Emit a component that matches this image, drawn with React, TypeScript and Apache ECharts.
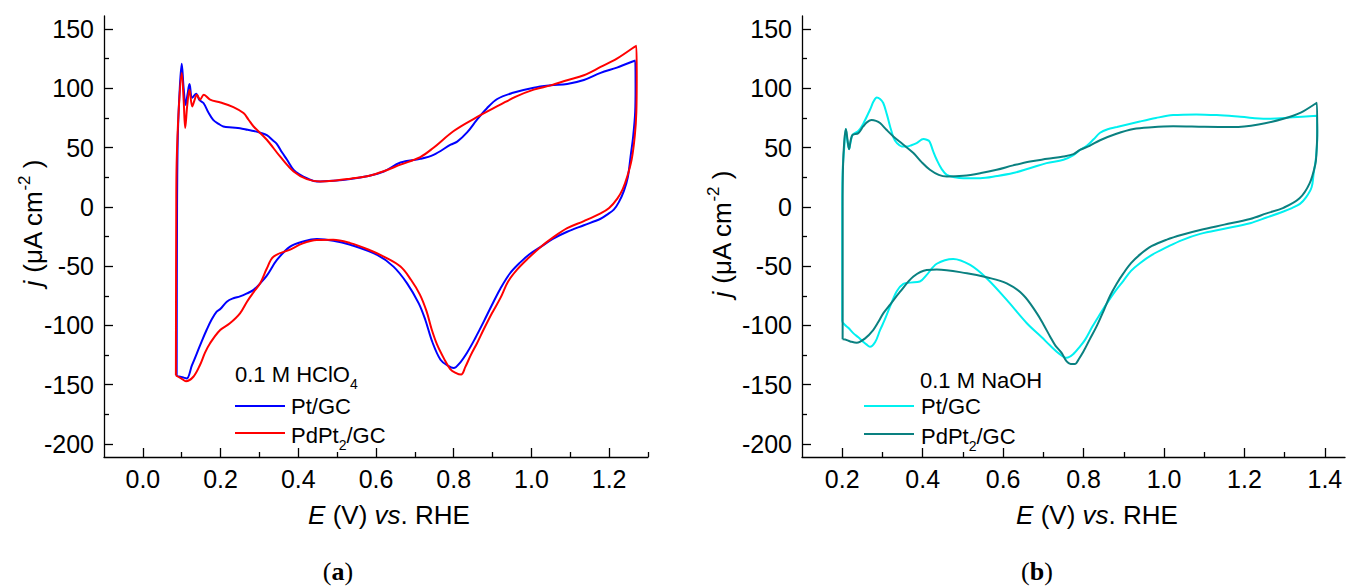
import React, { useEffect, useRef } from "react";
import * as echarts from "echarts";

// ---------- tick values ----------
const leftXTicks = [0.0, 0.2, 0.4, 0.6, 0.8, 1.0, 1.2];
const leftXMinor = [0.1, 0.3, 0.5, 0.7, 0.9, 1.1, 1.3];
const rightXTicks = [0.2, 0.4, 0.6, 0.8, 1.0, 1.2, 1.4];
const rightXMinor = [0.3, 0.5, 0.7, 0.9, 1.1, 1.3];
const yTicks = [-200, -150, -100, -50, 0, 50, 100, 150];
const yMinor = [-175, -125, -75, -25, 25, 75, 125];

// ---------- (a) 0.1 M HClO4 : [E (V), j (uA cm-2)] ----------
const ptHClO4: number[][] = [
  [0.087, -142.5], [0.088, 0], [0.09, 60], [0.095, 100], [0.1, 120.8], [0.105, 100], [0.11, 86],
  [0.115, 95], [0.12, 103.6], [0.127, 92], [0.137, 95.4], [0.146, 90], [0.156, 87.6], [0.168, 80],
  [0.181, 73.4], [0.195, 70], [0.207, 67.8], [0.23, 67], [0.25, 66.4], [0.27, 65], [0.285, 64],
  [0.302, 62.5], [0.319, 60.5], [0.335, 56], [0.345, 53], [0.358, 46], [0.371, 39.7], [0.388, 31.2],
  [0.405, 27], [0.422, 24.2], [0.448, 21.4], [0.49, 22], [0.534, 23.4], [0.58, 26], [0.62, 29.8],
  [0.663, 37.4], [0.714, 40.5], [0.748, 43.9], [0.792, 52.4], [0.809, 55], [0.835, 63], [0.86, 73.6],
  [0.885, 83], [0.912, 91], [0.95, 96], [1.006, 100.5], [1.05, 102.5], [1.092, 103.7], [1.135, 107],
  [1.178, 113], [1.22, 117.5], [1.267, 123.5],
  [1.268, 100], [1.267, 80], [1.262, 60], [1.255, 42], [1.248, 25], [1.238, 13.5], [1.225, 4],
  [1.212, -2.3], [1.195, -6.5], [1.178, -10], [1.135, -15.5], [1.092, -21], [1.055, -27], [1.023, -34],
  [0.995, -40], [0.972, -46.6], [0.945, -56], [0.92, -69], [0.898, -83], [0.877, -97], [0.855, -111],
  [0.835, -122.6], [0.815, -132], [0.8, -136], [0.785, -134], [0.766, -129], [0.745, -114],
  [0.727, -95.4], [0.71, -81.4], [0.68, -64.5], [0.645, -50.4], [0.603, -40.5], [0.534, -32],
  [0.49, -28.5], [0.448, -27.2], [0.415, -29], [0.379, -33.5], [0.345, -44.8], [0.319, -58],
  [0.302, -64.5], [0.285, -70], [0.268, -73], [0.25, -75.5], [0.233, -77.1], [0.216, -80], [0.2, -86],
  [0.19, -88.4], [0.177, -95], [0.164, -103.9], [0.152, -113], [0.139, -123.6], [0.126, -134],
  [0.113, -144.7], [0.104, -144], [0.096, -143.3], [0.087, -142.5],
];

const pdpt2HClO4: number[][] = [
  [0.085, -142], [0.086, 0], [0.087, 37], [0.092, 80], [0.1, 112.9], [0.105, 90], [0.109, 66.5],
  [0.114, 85], [0.12, 98.8], [0.127, 84.7], [0.133, 90], [0.139, 94.6], [0.147, 90.4], [0.157, 94.6],
  [0.173, 90.4], [0.2, 88], [0.233, 84.2], [0.259, 79.1], [0.272, 73.5], [0.285, 67.8], [0.319, 56.6],
  [0.353, 42.5], [0.388, 29.8], [0.422, 23.4], [0.456, 21.4], [0.49, 22], [0.534, 23.8], [0.58, 26],
  [0.62, 30], [0.663, 35.6], [0.714, 42], [0.748, 49.9], [0.8, 64], [0.852, 74.3], [0.92, 86.2],
  [0.96, 93], [1.006, 98.9], [1.05, 102.5], [1.092, 106.8], [1.135, 111], [1.178, 118], [1.22, 125],
  [1.27, 136],
  [1.271, 110], [1.27, 80], [1.266, 60], [1.258, 40], [1.247, 26], [1.235, 15], [1.221, 7], [1.2, -1],
  [1.178, -5.5], [1.135, -12], [1.092, -18], [1.055, -26], [1.023, -34], [0.993, -43], [0.963, -53],
  [0.94, -63], [0.92, -77], [0.898, -90], [0.877, -103.5], [0.86, -115], [0.843, -125.7],
  [0.83, -135], [0.819, -141.5], [0.805, -140], [0.791, -136.8], [0.775, -128], [0.757, -116],
  [0.743, -103], [0.73, -88], [0.713, -74], [0.69, -61.5], [0.663, -50.4], [0.62, -42], [0.58, -36],
  [0.534, -30.6], [0.49, -27.8], [0.448, -28], [0.41, -31], [0.379, -36], [0.336, -42], [0.319, -52],
  [0.302, -64.5], [0.285, -72], [0.268, -80], [0.25, -89.8], [0.224, -98.2], [0.199, -103.9],
  [0.173, -115], [0.16, -123], [0.147, -133.4], [0.13, -143.3], [0.111, -147], [0.1, -145],
  [0.091, -143.3], [0.085, -142],
];

// ---------- (b) 0.1 M NaOH ----------
const ptNaOH: number[][] = [
  [0.2, -97], [0.2, 0], [0.201, 30], [0.205, 50], [0.209, 65.6], [0.213, 55], [0.217, 48.7],
  [0.221, 55], [0.226, 60.8], [0.24, 64], [0.252, 70], [0.269, 81.9], [0.278, 89], [0.286, 92.3],
  [0.294, 91], [0.302, 87.6], [0.311, 78], [0.319, 67.8], [0.328, 58], [0.336, 53.8], [0.348, 51],
  [0.36, 50.9], [0.372, 52], [0.385, 53.8], [0.402, 57.2], [0.41, 56.6], [0.417, 55.2], [0.426, 47],
  [0.435, 39.7], [0.447, 32], [0.46, 27], [0.48, 25], [0.501, 24.2], [0.543, 24.2], [0.585, 26],
  [0.625, 28.5], [0.67, 33], [0.708, 36.9], [0.75, 39.7], [0.775, 43.6], [0.791, 48], [0.808, 51.5],
  [0.825, 57], [0.841, 62.5], [0.86, 65.5], [0.883, 67.3], [0.94, 72], [0.98, 75], [1.023, 77.4],
  [1.08, 78], [1.131, 77.4], [1.19, 76], [1.255, 74.3], [1.32, 75.5], [1.38, 76.8],
  [1.381, 60], [1.378, 42], [1.372, 28], [1.367, 16.6], [1.353, 8], [1.338, 2.5], [1.318, -1],
  [1.297, -3.9], [1.255, -9], [1.214, -13.8], [1.15, -18.5], [1.09, -22.8], [1.045, -28],
  [1.007, -34], [0.97, -40.5], [0.94, -47.5], [0.918, -54], [0.899, -62.4], [0.878, -71.5],
  [0.858, -81.4], [0.84, -91], [0.822, -101], [0.804, -112], [0.791, -117.8], [0.775, -124],
  [0.758, -127.3], [0.74, -124], [0.717, -117], [0.696, -110], [0.659, -98.2], [0.609, -78.5],
  [0.559, -60.2], [0.518, -49], [0.476, -43.9], [0.435, -48], [0.41, -57.4], [0.393, -63],
  [0.369, -63.9], [0.352, -65], [0.336, -71], [0.319, -84], [0.306, -95], [0.294, -104],
  [0.282, -114], [0.269, -118], [0.26, -116], [0.252, -113.7], [0.24, -110], [0.228, -106.7],
  [0.215, -102], [0.207, -99.7], [0.2, -97],
];

const pdpt2NaOH: number[][] = [
  [0.201, -111.7], [0.201, 0], [0.202, 34], [0.205, 55], [0.209, 65.6], [0.213, 57], [0.217, 48.7],
  [0.221, 56], [0.226, 60.8], [0.24, 62.2], [0.252, 67.8], [0.262, 71.5], [0.273, 73.2],
  [0.284, 72.5], [0.294, 70.7], [0.31, 65], [0.327, 59.4], [0.35, 53], [0.377, 45.4], [0.398, 37.5],
  [0.418, 31.3], [0.44, 27], [0.46, 25.6], [0.501, 26.2], [0.545, 28.5], [0.584, 31.3], [0.625, 35],
  [0.667, 38.3], [0.71, 40.5], [0.75, 42.5], [0.775, 44.5], [0.791, 48], [0.815, 51.5],
  [0.841, 56.2], [0.88, 61.5], [0.924, 65.7], [0.97, 67.2], [1.023, 67.9], [1.1, 67.5],
  [1.172, 67.3], [1.235, 69.5], [1.297, 74.3], [1.34, 79.5], [1.38, 87.8],
  [1.381, 64], [1.379, 45], [1.376, 35.6], [1.362, 19.8], [1.337, 7.2], [1.297, -0.8],
  [1.255, -5.5], [1.214, -10.2], [1.15, -15], [1.09, -19.5], [1.045, -23.5], [1.007, -27.6],
  [0.97, -33], [0.94, -40.3], [0.918, -47.5], [0.899, -56.1], [0.882, -65], [0.866, -75],
  [0.852, -86], [0.833, -100.4], [0.815, -112], [0.799, -122.5], [0.788, -128.5], [0.779, -132.6],
  [0.768, -132.5], [0.758, -130.4], [0.745, -123], [0.73, -117], [0.717, -109.5], [0.7, -99],
  [0.684, -89.8], [0.65, -74.3], [0.609, -64.5], [0.559, -59.4], [0.51, -56], [0.435, -52.9],
  [0.41, -53.2], [0.377, -58.8], [0.344, -71.5], [0.32, -82], [0.302, -89.8], [0.29, -97],
  [0.277, -103.9], [0.257, -110.9], [0.236, -114.6], [0.22, -113.5], [0.203, -111.7], [0.201, -111.7],
];

const FONT = "'Liberation Sans', Arial, Helvetica, sans-serif";
const SERIF = "'Liberation Serif', 'Times New Roman', serif";

const xMainAxis = (g: number, min: number, max: number, ticks: number[]) => ({
  type: "value", gridIndex: g, min, max, position: "bottom",
  axisLine: { show: true, onZero: false, lineStyle: { color: "#000", width: 1.3 } },
  axisTick: { show: true, inside: true, length: 9, customValues: ticks, lineStyle: { color: "#000", width: 1.3 } },
  axisLabel: {
    show: true, customValues: ticks, margin: 9, fontSize: 25, color: "#000", fontFamily: FONT,
    formatter: (v: number) => v.toFixed(1),
  },
  splitLine: { show: false },
});
const xMinorAxis = (g: number, min: number, max: number, ticks: number[]) => ({
  type: "value", gridIndex: g, min, max, position: "bottom",
  axisLine: { show: false, onZero: false },
  axisTick: { show: true, inside: true, length: 5, customValues: ticks, lineStyle: { color: "#000", width: 1.3 } },
  axisLabel: { show: false },
  splitLine: { show: false },
});
const yMainAxis = (g: number) => ({
  type: "value", gridIndex: g, min: -211, max: 161, position: "left",
  axisLine: { show: true, onZero: false, lineStyle: { color: "#000", width: 1.3 } },
  axisTick: { show: true, inside: true, length: 9, customValues: yTicks, lineStyle: { color: "#000", width: 1.3 } },
  axisLabel: {
    show: true, customValues: yTicks, margin: 10, fontSize: 25, color: "#000", fontFamily: FONT,
    formatter: (v: number) => String(v),
  },
  splitLine: { show: false },
});
const yMinorAxis = (g: number) => ({
  type: "value", gridIndex: g, min: -211, max: 161, position: "left",
  axisLine: { show: false, onZero: false },
  axisTick: { show: true, inside: true, length: 5, customValues: yMinor, lineStyle: { color: "#000", width: 1.3 } },
  axisLabel: { show: false },
  splitLine: { show: false },
});

const lineSeries = (name: string, data: number[][], color: string, axis: number) => ({
  type: "line", name, data, xAxisIndex: axis, yAxisIndex: axis,
  showSymbol: false, symbol: "none", smooth: 0.35,
  lineStyle: { color, width: 2 }, itemStyle: { color },
  emphasis: { disabled: true }, silent: true,
});

const text = (x: number, y: number, t: string, size: number, extra: any = {}) => ({
  type: "text", x, y, silent: true, ...extra,
  style: {
    text: t, fontSize: size, fontFamily: FONT, fill: "#000",
    align: extra.align || "left", textAlign: extra.align || "left",
    verticalAlign: "middle", textVerticalAlign: "middle",
    rich: {
      i: { fontStyle: "italic", fontSize: size, fontFamily: FONT, fill: "#000", verticalAlign: "middle", lineHeight: 34 },
      n: { fontSize: size, fontFamily: FONT, fill: "#000", verticalAlign: "middle", lineHeight: 34 },
      sup: { fontSize: Math.round(size * 0.65), fontFamily: FONT, fill: "#000", verticalAlign: "top", lineHeight: 34 },
      sub: { fontSize: Math.round(size * 0.65), fontFamily: FONT, fill: "#000", verticalAlign: "bottom", lineHeight: 34 },
    },
  },
});

const caption = (x: number, y: number, letter: string) => ({
  type: "text", x, y, silent: true,
  style: {
    text: "(" + "{b|" + letter + "})",
    font: "26px 'Liberation Serif', serif",
    fontSize: 26, fontFamily: SERIF, fill: "#000",
    align: "center", textAlign: "center", verticalAlign: "middle", textVerticalAlign: "middle",
    rich: { b: { fontWeight: "bold", fontSize: 26, fontFamily: SERIF, fill: "#000" } },
  },
});

const legLine = (x1: number, x2: number, y: number, color: string) => ({
  type: "line", silent: true, shape: { x1, y1: y, x2, y2: y }, style: { stroke: color, lineWidth: 2 },
});

export default function App() {
  const ref = useRef<HTMLDivElement>(null);
  useEffect(() => {
    if (!ref.current) return;
    const chart = echarts.init(ref.current, null, { renderer: "svg" });
    const option: any = {
      animation: false,
      backgroundColor: "#fff",
      grid: [
        { left: 104, top: 16, width: 544, height: 441, containLabel: false, outerBoundsMode: "none" },
        { left: 802, top: 16, width: 543, height: 441, containLabel: false, outerBoundsMode: "none" },
      ],
      xAxis: [
        xMainAxis(0, -0.1, 1.3, leftXTicks),
        xMinorAxis(0, -0.1, 1.3, leftXMinor),
        xMainAxis(1, 0.1, 1.45, rightXTicks),
        xMinorAxis(1, 0.1, 1.45, rightXMinor),
      ],
      yAxis: [yMainAxis(0), yMinorAxis(0), yMainAxis(1), yMinorAxis(1)],
      series: [
        lineSeries("Pt/GC", ptHClO4, "#0000ff", 0),
        lineSeries("PdPt2/GC", pdpt2HClO4, "#ff0000", 0),
        lineSeries("Pt/GC", ptNaOH, "#00f0f0", 2),
        lineSeries("PdPt2/GC", pdpt2NaOH, "#0a8080", 2),
      ],
      graphic: [
        // axis titles
        text(389, 515, "{i|E}{n| (V) }{i|vs}{n|. RHE}", 26, { align: "center" }),
        text(1097, 515, "{i|E}{n| (V) }{i|vs}{n|. RHE}", 26, { align: "center" }),
        text(33, 223, "{i|j}{n| (μA cm}{sup|-2}{n| )}", 26, { align: "center", rotation: Math.PI / 2 }),
        text(722, 234, "{i|j}{n| (μA cm}{sup|-2}{n| )}", 26, { align: "center", rotation: Math.PI / 2 }),
        // legend (a)
        text(235, 374, "{n|0.1 M HClO}{sub|4}", 22),
        legLine(235, 285, 406, "#0000ff"),
        text(291, 406, "{n|Pt/GC}", 22),
        legLine(235, 285, 433, "#ff0000"),
        text(291, 435, "{n|PdPt}{sub|2}{n|/GC}", 22),
        // legend (b)
        text(920, 380, "{n|0.1 M NaOH}", 22),
        legLine(864, 914, 406, "#00f0f0"),
        text(921, 406, "{n|Pt/GC}", 22),
        legLine(864, 914, 434, "#0a8080"),
        text(921, 436, "{n|PdPt}{sub|2}{n|/GC}", 22),
        // captions
        caption(338, 571, "a"),
        caption(1037, 571, "b"),
      ],
    };
    chart.setOption(option);
    return () => chart.dispose();
  }, []);
  return (
    <div
      ref={ref}
      style={{ position: "absolute", left: 0, top: 0, width: 1346, height: 587, background: "#fff" }}
    />
  );
}
